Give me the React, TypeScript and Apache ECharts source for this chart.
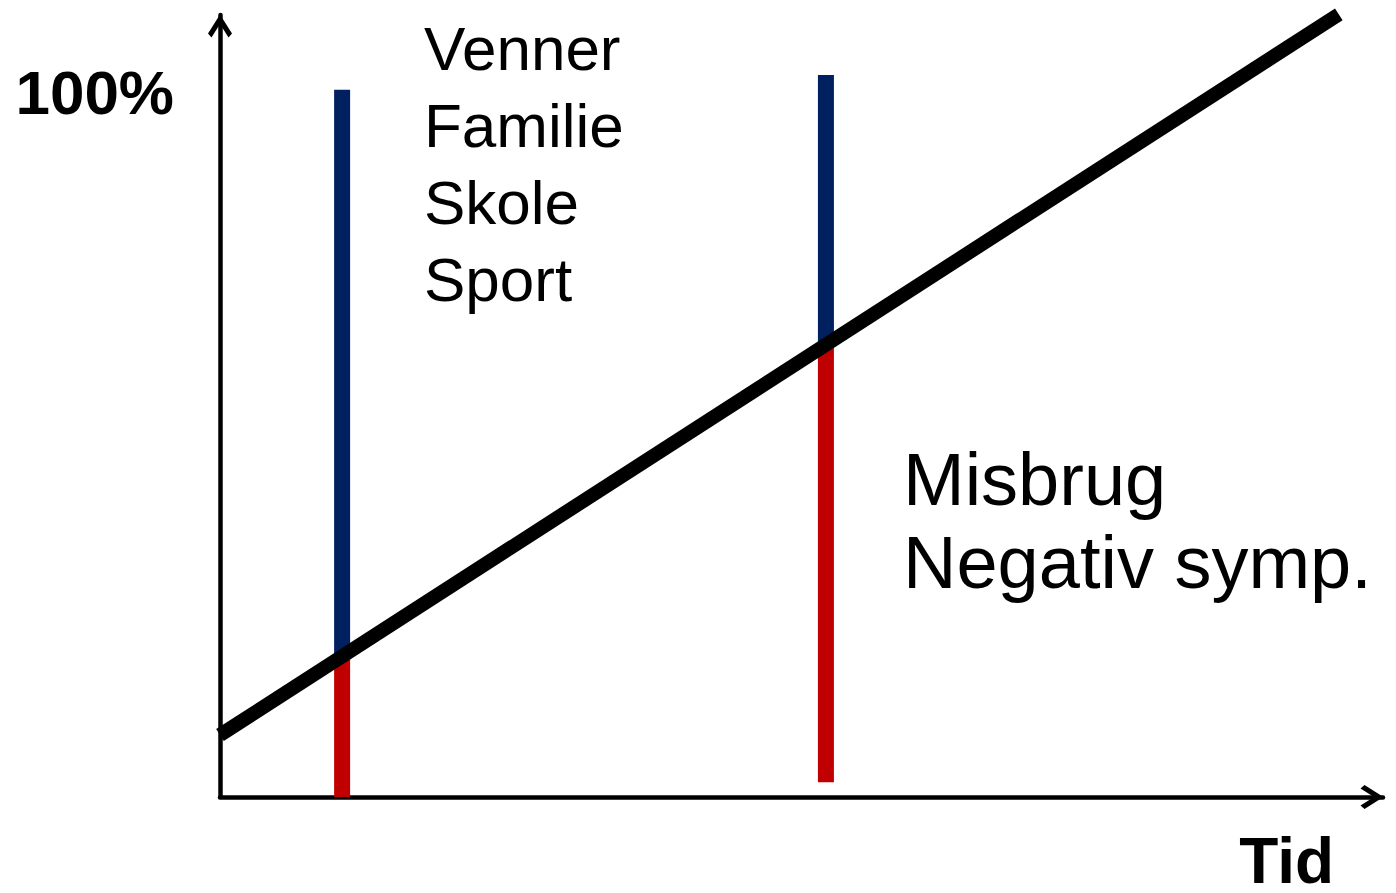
import React, { useEffect, useRef } from "react";
import * as echarts from "echarts";

// ---- data ----
const TIME_MAX = 100;
const PCT_MAX = 111;
const PCT_TICK = 100;

// two vertical "state" bars: red (risk) below the trend line, blue (protective) above it
const barTime = [10.5, 52.1];
const barBase = [0, 2.1];
const barSplit = [20, 64.2];
const barTop = [100.4, 102.5];

// black trend line
const trendTime = [0, 96.2];
const trendPct = [8.8, 111.1];

const yTickLabel = "100%";
const xAxisName = "Tid";
const protectiveLabels = ["Venner", "Familie", "Skole", "Sport"];
const riskLabels = ["Misbrug", "Negativ symp."];

const RED = "#C00000";
const BLUE = "#002060";
const FONT = '"Liberation Sans", Arial, Helvetica, sans-serif';

const chevron = "path://M12,0 L24,19 L20.5,23 L12,9.5 L3.5,23 L0,19 Z";

export default function App() {
  const ref = useRef<HTMLDivElement>(null);

  useEffect(() => {
    document.body.style.margin = "0";
    if (!ref.current) return;
    const chart = echarts.init(ref.current, null, { renderer: "svg" });

    const segSeries: any[] = [];
    barTime.forEach((t, i) => {
      segSeries.push({
        type: "line",
        name: "risk" + i,
        data: [
          [t, barBase[i]],
          [t, barSplit[i]],
        ],
        symbol: "none",
        clip: false,
        z: 2,
        lineStyle: { color: RED, width: 16, cap: "butt" },
      });
      segSeries.push({
        type: "line",
        name: "protect" + i,
        data: [
          [t, barSplit[i]],
          [t, barTop[i]],
        ],
        symbol: "none",
        clip: false,
        z: 2,
        lineStyle: { color: BLUE, width: 16, cap: "butt" },
      });
    });

    const axisLine = {
      show: true,
      lineStyle: { color: "#000", width: 4.5 },
      symbol: ["none", chevron],
      symbolSize: [24, 24],
      symbolOffset: [0, -11],
    };

    chart.setOption({
      animation: false,
      backgroundColor: "#fff",
      grid: { left: 220, right: 13, top: 15, bottom: 93, containLabel: false },
      xAxis: {
        type: "value",
        min: 0,
        max: TIME_MAX,
        axisLine,
        axisTick: { show: false },
        axisLabel: { show: false },
        splitLine: { show: false },
        name: xAxisName,
        nameLocation: "end",
        nameGap: 0,
        nameTextStyle: {
          fontSize: 64,
          fontWeight: "bold",
          fontFamily: FONT,
          color: "#000",
          align: "right",
          verticalAlign: "top",
          lineHeight: 54,
          padding: [37, 49, 0, 0],
        },
      },
      yAxis: {
        type: "value",
        min: 0,
        max: PCT_MAX,
        interval: PCT_TICK,
        axisLine,
        axisTick: { show: false },
        splitLine: { show: false },
        axisLabel: {
          formatter: (v: number) => (v === PCT_TICK ? yTickLabel : ""),
          fontSize: 62,
          fontWeight: "bold",
          fontFamily: FONT,
          color: "#000",
          margin: 46,
        },
      },
      series: [
        ...segSeries,
        {
          type: "line",
          name: "trend",
          data: trendTime.map((t, i) => [t, trendPct[i]]),
          symbol: "none",
          clip: false,
          z: 3,
          lineStyle: { color: "#000", width: 14, cap: "butt" },
        },
      ],
      graphic: [
        {
          type: "text",
          x: 424,
          y: 10,
          style: {
            text: protectiveLabels.join("\n"),
            fontSize: 62,
            fontFamily: FONT,
            fill: "#000",
            lineHeight: 77,
            align: "left",
            verticalAlign: "top",
          },
        },
        {
          type: "text",
          x: 903,
          y: 438,
          style: {
            text: riskLabels.join("\n"),
            fontSize: 74,
            fontFamily: FONT,
            fill: "#000",
            lineHeight: 83,
            align: "left",
            verticalAlign: "top",
          },
        },
      ],
    });

    return () => chart.dispose();
  }, []);

  return (
    <div
      ref={ref}
      style={{ position: "absolute", left: 0, top: 0, width: 1396, height: 893 }}
    />
  );
}
